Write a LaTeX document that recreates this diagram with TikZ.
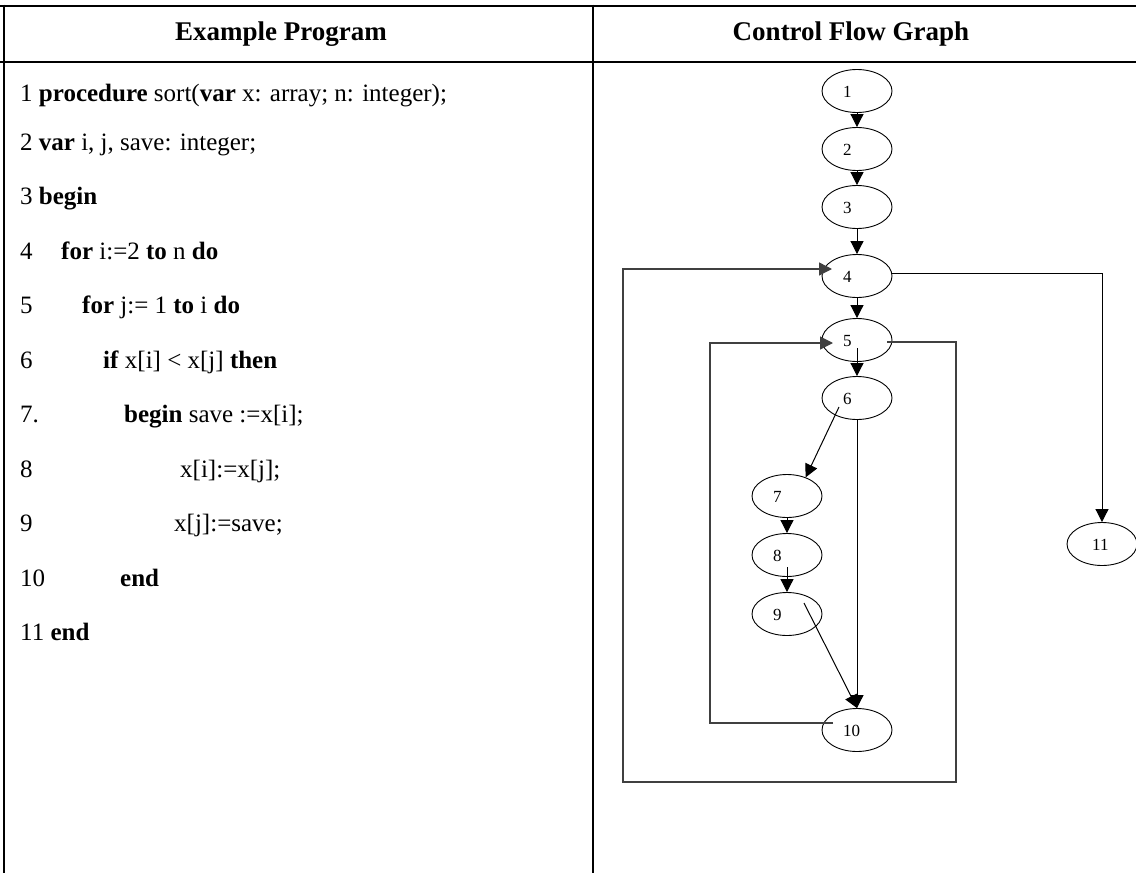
\documentclass[tikz,border=0pt]{standalone}
\usepackage{fontspec}
\setmainfont{Liberation Serif}
\usetikzlibrary{arrows.meta,calc,shapes.geometric}
\begin{document}
\begin{tikzpicture}[x=1pt,y=-1pt,
  cell/.style={line width=2.6pt,black},
  st/.style={ellipse,draw,line width=0.9pt,minimum width=70pt,minimum height=43pt,inner sep=0pt},
  lbl/.style={font=\fontsize{17}{17}\selectfont,inner sep=0pt,anchor=base west},
  arr/.style={line width=1pt,-{Triangle[length=13pt,width=13pt]}},
  looparr/.style={line width=1.4pt,black!75,-{Triangle[length=13pt,width=13pt]}},
  code/.style={font=\fontsize{25}{30}\selectfont,inner sep=0pt,anchor=base west},
  head/.style={font=\fontsize{27}{30}\selectfont\bfseries,inner sep=0pt,anchor=base}
]
\useasboundingbox (0,0) rectangle (1136,873);
% table rules
\draw[cell] (0,6) -- (1140,6);
\draw[cell] (0,62) -- (1140,62);
\draw[cell] (4,4.7) -- (4,880);
\draw[cell] (593,4.7) -- (593,880);
% headers
\node[head] (h1) at (281,40) {Example Program};
\node[head] (h2) at (851,40) {Control Flow Graph};
% code
\node[code] (c1) at (20,101) {1 \textbf{procedure} sort(\textbf{var} x: array; n: integer);};
\node[code] (c2) at (20,150) {2 \textbf{var} i, j, save: integer;};
\node[code] (c3) at (20,204.5) {3 \textbf{begin}};
\node[code] (n4) at (20,259) {4};
\node[code] (c4) at (61,259) {\textbf{for} i:=2 \textbf{to} n \textbf{do}};
\node[code] (n5) at (20,313.5) {5};
\node[code] (c5) at (82,313.5) {\textbf{for} j:= 1 \textbf{to} i \textbf{do}};
\node[code] (n6) at (20,368) {6};
\node[code] (c6) at (103,368) {\textbf{if} x[i] < x[j] \textbf{then}};
\node[code] (n7) at (20,422.5) {7.};
\node[code] (c7) at (124,422.5) {\textbf{begin} save :=x[i];};
\node[code] (n8) at (20,477) {8};
\node[code] (c8) at (180,477) {x[i]:=x[j];};
\node[code] (n9) at (20,531.5) {9};
\node[code] (c9) at (174,531.5) {x[j]:=save;};
\node[code] (n10) at (20,586) {10};
\node[code] (c10) at (120,586) {\textbf{end}};
\node[code] (c11) at (20,640.5) {11 \textbf{end}};
% graph nodes
\node[st] (e1) at (857,91) {};
\node[st] (e2) at (857,149) {};
\node[st] (e3) at (857,207) {};
\node[st] (e4) at (857,276) {};
\node[st] (e5) at (857,340) {};
\node[st] (e6) at (857,398) {};
\node[st] (e7) at (787,496) {};
\node[st] (e8) at (787,555) {};
\node[st] (e9) at (787,614) {};
\node[st] (e10) at (857,730) {};
\node[st] (e11) at (1102,544) {};
\foreach \n in {1,...,10}{\node[lbl] (l\n) at ($(e\n.center)+(-14,6)$) {\n};}
\node[lbl] (l11) at ($(e11.center)+(-10,6)$) {11};
% edges
\draw[arr] (e1.south) -- (e2.north);
\draw[arr] (e2.south) -- (e3.north);
\draw[arr] (e3.south) -- (e4.north);
\draw[arr] (e4.south) -- (e5.north);
\draw[arr] ($(e4.center)+(35,-3)$) -| (e11.north);
\draw[arr] ($(e5.center)+(0,8)$) -- (e6.north);
\draw[arr] (e6.south) -- (e10.north);
\draw[arr] ($(e6.center)+(-18,9)$) -- (e7.45);
\draw[arr] (e7.south) -- (e8.north);
\draw[arr] ($(e8.center)+(0,12)$) -- (e9.north);
\draw[arr] ($(e9.center)+(17,-11)$) -- (e10.north);
\draw[looparr] ($(e10.center)+(-24,-7)$) -- (710,723) -- (710,343) -- ($(e5.center)+(-24,3)$);
\draw[looparr] ($(e5.center)+(30,2)$) -- (956,342) -- (956,782) -- (623,782) -- (623,269) -- ($(e4.center)+(-25,-7)$);
\end{tikzpicture}
\end{document}
